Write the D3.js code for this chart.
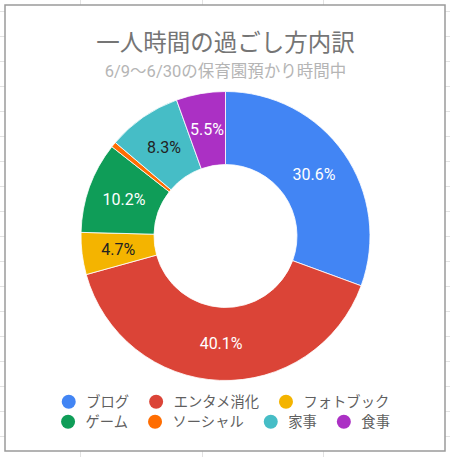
<!DOCTYPE html>
<html>
<head>
<meta charset="utf-8">
<script src="https://cdn.jsdelivr.net/npm/d3@7"></script>
<style>
  body { margin: 0; background: #fff; }
  svg { display: block; }
  text { font-family: Roboto, "Noto Sans CJK JP", sans-serif; }
</style>
</head>
<body>
<svg id="chart"></svg>
<script>
var categories = ["ブログ", "エンタメ消化", "フォトブック", "ゲーム", "ソーシャル", "家事", "食事"];
var shares = [30.6, 40.1, 4.7, 10.2, 0.6, 8.3, 5.5];
var colors = ["#4285f4", "#db4437", "#f4b400", "#0f9d58", "#ff6d01", "#46bdc6", "#ab30c4"];
var labelColors = ["#fff", "#fff", "#222", "#fff", "#fff", "#222", "#fff"];
var title = "一人時間の過ごし方内訳";
var subtitle = "6/9〜6/30の保育園預かり時間中";

var width = 450, height = 457;
var box = { left: 5, top: 5, right: 445, bottom: 451 };
var center = { x: 225.5, y: 236 };
var outerR = 144.5, innerR = 71.5;

var svg = d3.select("#chart").attr("width", width).attr("height", height);

// spreadsheet grid behind the chart
var grid = svg.append("g").attr("stroke", "#e2e2e2").attr("stroke-width", 1);
d3.range(11, height, 25).forEach(function (y) {
  grid.append("line").attr("x1", 0).attr("x2", width).attr("y1", y + 0.5).attr("y2", y + 0.5);
});
[80, 202, 323].forEach(function (x) {
  grid.append("line").attr("x1", x + 0.5).attr("x2", x + 0.5).attr("y1", 0).attr("y2", height);
});

svg.append("rect")
  .attr("x", box.left)
  .attr("y", box.top)
  .attr("width", box.right - box.left)
  .attr("height", box.bottom - box.top)
  .attr("fill", "#fff")
  .attr("stroke", "#9a9a9a")
  .attr("stroke-width", 1.5);

svg.append("text")
  .attr("x", center.x)
  .attr("y", 42.5)
  .attr("text-anchor", "middle")
  .attr("dominant-baseline", "central")
  .style("font-size", "23.5px")
  .style("fill", "#757575")
  .text(title);

svg.append("text")
  .attr("x", center.x)
  .attr("y", 71)
  .attr("text-anchor", "middle")
  .attr("dominant-baseline", "central")
  .style("font-size", "16.5px")
  .style("fill", "#b5b5b5")
  .text(subtitle);

var pie = d3.pie().sort(null).value(function (d) { return d; });
var arcs = pie(shares);
var arc = d3.arc().innerRadius(innerR).outerRadius(outerR);
var labelArc = d3.arc().innerRadius((innerR + outerR) / 2).outerRadius((innerR + outerR) / 2);

var g = svg.append("g").attr("transform", `translate(${center.x}, ${center.y})`);

g.selectAll("path")
  .data(arcs)
  .enter().append("path")
  .attr("d", arc)
  .attr("fill", function (d, i) { return colors[i]; })
  .attr("stroke", "#fff")
  .attr("stroke-width", 0.8);

g.selectAll("text.label")
  .data(arcs.filter(function (d) { return d.data >= 1; }))
  .enter().append("text")
  .attr("class", "label")
  .attr("transform", function (d) { return "translate(" + labelArc.centroid(d) + ")"; })
  .attr("text-anchor", "middle")
  .attr("dominant-baseline", "central")
  .style("font-size", "16px")
  .style("fill", function (d) { return labelColors[d.index]; })
  .text(function (d) { return d.data.toFixed(1) + "%"; });

// legend, wrapped in rows and centred
var legend = svg.append("g");
var items = categories.map(function (name, i) {
  var item = legend.append("g");
  item.append("circle").attr("r", 7).attr("cx", 7).attr("fill", colors[i]);
  var t = item.append("text")
    .attr("x", 24.5)
    .attr("dominant-baseline", "central")
    .style("font-size", "14.3px")
    .style("fill", "#5f5f5f")
    .text(name);
  return { node: item, w: 24.5 + t.node().getComputedTextLength() };
});

var maxRow = 360, gap = 20, rowY = [401.7, 421.7];
var rows = [[]], rowW = [0];
items.forEach(function (it) {
  var r = rows.length - 1;
  var need = rowW[r] === 0 ? it.w : rowW[r] + gap + it.w;
  if (need > maxRow && rowW[r] > 0) {
    rows.push([it]);
    rowW.push(it.w);
  } else {
    rows[r].push(it);
    rowW[r] = need;
  }
});
rows.forEach(function (row, r) {
  var x = center.x - rowW[r] / 2;
  row.forEach(function (it) {
    it.node.attr("transform", `translate(${x}, ${rowY[r]})`);
    x += it.w + gap;
  });
});
</script>
</body>
</html>
